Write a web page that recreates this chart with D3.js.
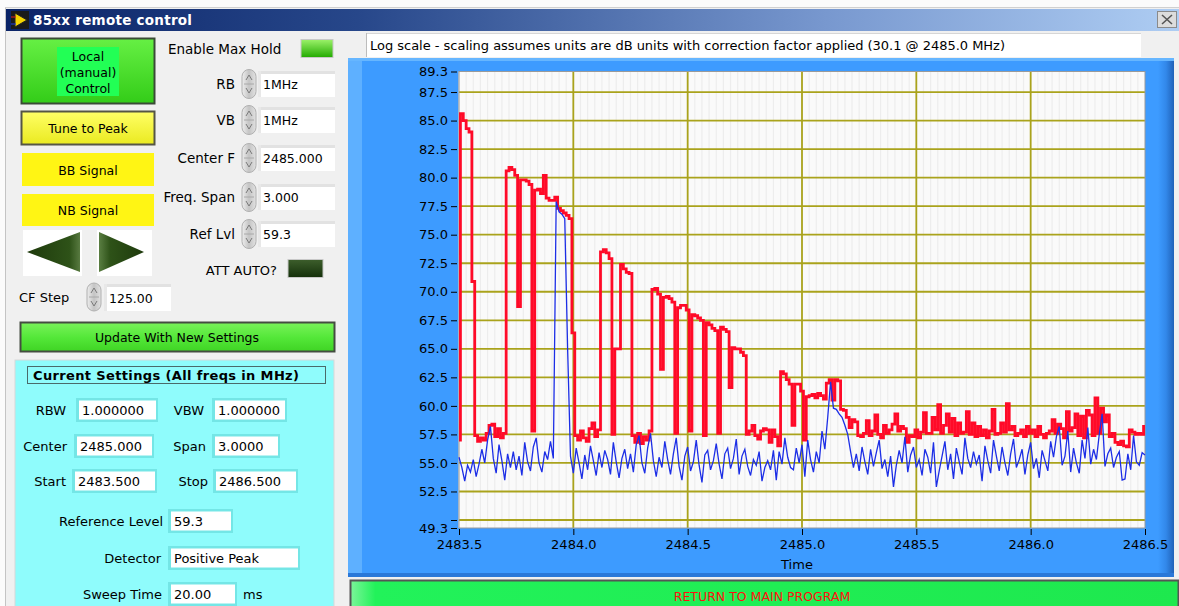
<!DOCTYPE html>
<html>
<head>
<meta charset="utf-8">
<script src="https://cdn.jsdelivr.net/npm/d3@7"></script>
<style>
  body { margin: 0; background: #f0f0f0; }
  svg { display: block; font-family: "DejaVu Sans", sans-serif; }
</style>
</head>
<body>
<div id="chart"></div>
<script>
// sweep definition (MHz)
const freqStart = 2483.5;
const freqStop = 2486.5;

const xTickValues = [2483.5, 2484.0, 2484.5, 2485.0, 2485.5, 2486.0, 2486.5];
const yTickValues = [89.3, 87.5, 85.0, 82.5, 80.0, 77.5, 75.0, 72.5, 70.0, 67.5, 65.0, 62.5, 60.0, 57.5, 55.0, 52.5, 50.0, 49.3];
const yGridValues = [87.5, 85.0, 82.5, 80.0, 77.5, 75.0, 72.5, 70.0, 67.5, 65.0, 62.5, 60.0, 57.5, 55.0, 52.5, 50.0];

// max hold trace (red), dB, one value per sweep point
const maxHold = [
  57.0, 85.6, 85.0, 84.3, 84.0, 70.9, 57.4, 56.9, 57.2, 57.0,
  57.6, 58.3, 58.4, 57.3, 58.0, 57.2, 57.6, 80.6, 80.9, 80.7,
  80.2, 68.7, 79.8, 79.8, 79.7, 79.4, 57.8, 78.9, 79.0, 78.6,
  80.2, 78.2, 78.0, 78.0, 78.3, 77.3, 77.1, 76.9, 76.7, 76.4,
  66.4, 57.4, 57.0, 57.8, 57.2, 56.9, 58.0, 58.5, 57.3, 57.9,
  73.5, 73.7, 73.4, 72.9, 57.5, 65.0, 65.0, 72.4, 72.0, 71.7,
  71.6, 57.4, 56.8, 57.6, 56.7, 57.3, 57.0, 57.8, 70.2, 70.3,
  69.8, 63.2, 69.5, 69.6, 69.4, 69.1, 57.6, 68.6, 68.8, 68.8,
  68.4, 57.8, 68.0, 67.9, 67.7, 67.5, 57.4, 67.3, 67.1, 66.8,
  66.6, 57.6, 66.9, 66.7, 66.5, 61.6, 65.1, 65.0, 65.0, 64.7,
  64.4, 57.5, 57.8, 58.3, 57.4, 57.1, 57.8, 58.0, 57.9, 56.8,
  57.9, 57.3, 56.5, 63.0, 62.8, 62.3, 61.9, 58.3, 61.9, 61.9,
  61.3, 57.0, 60.8, 60.9, 61.0, 60.7, 61.1, 60.9, 60.6, 62.0,
  62.3, 60.5, 62.3, 62.2, 59.7, 59.6, 59.0, 58.1, 58.8, 58.6,
  57.4, 57.3, 57.6, 58.7, 57.4, 57.8, 59.2, 57.5, 57.2, 58.3,
  57.6, 57.9, 58.4, 59.3, 57.8, 58.2, 58.0, 56.8, 57.4, 57.3,
  57.9, 57.2, 57.7, 59.4, 57.6, 57.6, 59.0, 57.9, 60.1, 57.6,
  58.3, 59.3, 57.7, 58.9, 57.4, 58.5, 57.6, 57.7, 59.5, 57.5,
  58.5, 57.3, 58.2, 57.4, 57.9, 57.2, 57.8, 59.7, 57.5, 57.6,
  58.5, 57.7, 60.2, 57.9, 58.2, 57.4, 57.6, 57.9, 57.3, 58.2,
  57.6, 57.9, 57.3, 58.2, 57.5, 57.2, 57.6, 57.8, 58.8, 57.6,
  58.4, 58.0, 57.2, 59.5, 57.8, 58.1, 59.3, 57.4, 59.1, 57.2,
  59.6, 59.2, 57.4, 60.7, 57.6, 59.8, 58.6, 59.2, 57.3, 57.6,
  56.8, 56.6, 56.9, 56.5, 56.4, 57.9, 57.7, 57.5, 57.6, 57.5,
  58.2
];

// current sweep (blue), dB
const current = [
  55.5, 54.6, 53.4, 54.8, 54.2, 55.3, 53.8, 54.9, 56.2, 55.0,
  57.0, 58.2, 55.4, 54.1, 56.6, 55.2, 53.5, 55.8, 54.6, 56.0,
  54.4, 55.6, 53.9, 56.8, 55.1, 54.3, 56.4, 57.2, 55.0, 54.2,
  56.0, 55.3, 56.9, 55.4, 77.9, 77.0, 76.8, 76.4, 65.0, 55.6,
  54.1, 56.3, 55.0, 53.6, 55.7, 54.4, 56.5, 55.2, 53.9, 55.9,
  54.6, 56.1, 55.3, 54.0, 56.8, 55.1, 53.7, 55.4, 56.2, 54.5,
  55.8, 54.2, 56.6, 57.4, 55.0, 54.1, 56.3, 57.6, 55.2, 53.8,
  55.5, 54.6, 56.9, 55.3, 54.0, 55.8, 57.2, 54.7, 53.5, 55.6,
  56.4, 54.3, 55.1, 57.0, 54.8, 53.3, 55.7, 56.1, 54.4, 55.2,
  56.7, 54.9, 53.6, 55.8, 56.3, 54.5, 55.4, 57.1, 54.0, 55.6,
  56.2, 54.7, 53.9, 55.3, 54.8, 56.0, 53.4, 54.6, 55.2, 54.4,
  56.1, 53.5, 56.0, 54.9, 57.2, 55.5, 54.6, 54.4, 56.3, 55.0,
  56.6, 53.8, 57.0, 55.3, 54.2, 56.0, 55.0, 57.8, 56.2, 59.0,
  62.1, 59.8, 59.7, 59.3, 59.0, 58.3, 57.5, 56.0, 54.6, 55.8,
  54.3, 56.4, 55.1, 54.0, 56.2, 54.7, 55.9, 57.0, 54.5, 55.3,
  53.8, 55.6, 52.9, 54.8, 56.1, 55.0, 57.3, 54.2, 55.7, 56.4,
  54.6, 55.3, 53.9, 56.2, 55.5, 54.1, 56.8, 52.9, 54.3, 55.6,
  56.9, 54.4, 55.8, 53.6, 56.3, 55.1, 54.0, 57.2, 55.4, 54.6,
  56.0, 54.9, 55.7, 53.4, 56.5, 55.2, 54.1, 57.0, 55.6, 54.3,
  56.4, 55.0, 53.9, 55.8, 57.1, 54.6, 55.3, 56.2, 54.0, 55.7,
  56.8, 54.5, 55.4, 53.7, 56.1, 55.2, 54.3, 56.9, 55.5, 57.3,
  58.2, 54.8, 55.6, 57.8, 54.2, 56.3, 55.0, 54.1, 57.0, 55.4,
  58.1, 54.9, 56.2, 55.3, 57.5, 59.3, 54.7, 55.8, 56.3, 54.6,
  55.5, 56.0, 53.5, 53.6, 55.8, 54.4, 57.4, 55.1, 54.8, 55.9,
  55.7
];

// sweep point frequencies (evenly spaced analyzer bins)
const nPoints = maxHold.length;
const freqs = d3.range(nPoints).map(i => freqStart + i * (freqStop - freqStart) / (nPoints - 1));

// front panel texts
const titleText = "85xx remote control";
const infoText = "Log scale - scaling assumes units are dB units with correction factor applied (30.1 @ 2485.0 MHz)";
const spinLabels = ["RB", "VB", "Center F", "Freq. Span", "Ref Lvl"];
const spinValues = ["1MHz", "1MHz", "2485.000", "3.000", "59.3"];
const settingLabels = ["RBW", "VBW", "Center", "Span", "Start", "Stop", "Reference Level", "Detector", "Sweep Time"];
const settingValues = ["1.000000", "1.000000", "2485.000", "3.0000", "2483.500", "2486.500", "59.3", "Positive Peak", "20.00"];

// layout
const W = 1179, H = 606;
const spinRowY = [84, 120, 158, 197, 234];
const settingLayout = [
  [66, 79, 77, 410], [204, 215, 70, 410],
  [67, 77, 75, 446], [206, 215, 63, 446],
  [66, 75, 80, 481], [208, 216, 80, 481],
  [163, 171, 60, 521], [161, 171, 127, 558], [162, 171, 64, 594]
];

const svg = d3.select("#chart").append("svg")
  .attr("width", W)
  .attr("height", H);
const defs = svg.append("defs");

function grad(id, stops, horizontal) {
  const g = defs.append("linearGradient").attr("id", id)
    .attr("x1", 0).attr("y1", 0)
    .attr("x2", horizontal ? 1 : 0).attr("y2", horizontal ? 0 : 1);
  stops.forEach(s => g.append("stop").attr("offset", s[0]).attr("stop-color", s[1]));
}
grad("titleG", [[0, "#0b2467"], [0.3, "#27478a"], [0.7, "#7898cf"], [1, "#aecdf3"]], true);
grad("greenG", [[0, "#66f044"], [1, "#33cc18"]]);
grad("yellowG", [[0, "#ffff66"], [1, "#eaea20"]]);
grad("updateG", [[0, "#7af25a"], [0.5, "#55e83a"], [1, "#3fd424"]]);
grad("spinG", [[0, "#eeeeee"], [0.5, "#c4c4c4"], [1, "#e2e2e2"]], true);
grad("ledOn", [[0, "#9cf26a"], [1, "#22aa00"]]);
grad("ledOff", [[0, "#3d5e2c"], [1, "#14300a"]]);
grad("arrowL", [[0, "#1e3a0c"], [0.8, "#2e5218"], [1, "#587a40"]], true);
grad("arrowR", [[0, "#5a7e42"], [0.25, "#2e5218"], [1, "#1e3a0c"]], true);
grad("frameEdge", [[0, "#3d9bff"], [0.5, "#3288ea"], [1, "#2062b8"]], true);
grad("returnG", [[0, "#7cf59a"], [0.03, "#22f25a"], [1, "#1ee84e"]], true);

function txt(g, x, y, s, size, anchor, extra) {
  const t = g.append("text").attr("x", x).attr("y", y)
    .attr("font-size", size).attr("text-anchor", anchor || "start")
    .attr("fill", "#000").text(s);
  if (extra) extra(t);
  return t;
}

// window chrome
svg.append("rect").attr("width", W).attr("height", H).attr("fill", "#f0f0f0");
svg.append("rect").attr("width", W).attr("height", 8).attr("fill", "#fbfbfb");
svg.append("rect").attr("width", 5).attr("height", H).attr("fill", "#fbfbfb");
svg.append("line").attr("x1", 5.5).attr("x2", 5.5).attr("y1", 7).attr("y2", H).attr("stroke", "#c4c4c4");
svg.append("line").attr("x1", 5).attr("x2", W).attr("y1", 7.5).attr("y2", 7.5).attr("stroke", "#d0d0d0");
svg.append("rect").attr("x", 6).attr("y", 9).attr("width", W - 6).attr("height", 22).attr("fill", "url(#titleG)");
const icon = svg.append("g");
icon.append("rect").attr("x", 11).attr("y", 11).attr("width", 18).attr("height", 18).attr("fill", "#1a1a1a");
icon.append("path").attr("d", "M15,13 L27,20 L15,27 Z").attr("fill", "#f4d400").attr("stroke", "#222");
icon.append("line").attr("x1", 11).attr("x2", 16).attr("y1", 17).attr("y2", 17).attr("stroke", "#e02020");
icon.append("line").attr("x1", 11).attr("x2", 16).attr("y1", 24).attr("y2", 24).attr("stroke", "#2040e0");
txt(svg, 33, 25, titleText, 13.5, "start", t => t.attr("fill", "#fff").attr("font-weight", "bold").attr("textLength", 159));
svg.append("rect").attr("x", 1157.5).attr("y", 11.5).attr("width", 19).attr("height", 16)
  .attr("fill", "#dcdcdc").attr("stroke", "#8a8a8a");
svg.append("path").attr("d", "M1162,15 L1172,24 M1172,15 L1162,24").attr("stroke", "#555").attr("stroke-width", 1.6);

// ---- left column ----
const left = svg.append("g");
left.append("rect").attr("x", 21.5).attr("y", 38.5).attr("width", 133).attr("height", 65)
  .attr("fill", "url(#greenG)").attr("stroke", "#3a4a36").attr("stroke-width", 2);
left.append("rect").attr("x", 57).attr("y", 47).attr("width", 62).attr("height", 49).attr("fill", "#22ff55");
["Local", "(manual)", "Control"].forEach((s, i) => txt(left, 88, 61 + i * 16, s, 12.5, "middle"));

left.append("rect").attr("x", 21.5).attr("y", 111.5).attr("width", 133).attr("height", 33)
  .attr("fill", "url(#yellowG)").attr("stroke", "#555544").attr("stroke-width", 2);
txt(left, 88, 133, "Tune to Peak", 12.5, "middle");

left.append("rect").attr("x", 22).attr("y", 153).attr("width", 132).attr("height", 33).attr("fill", "#fff514");
txt(left, 88, 175, "BB Signal", 12.5, "middle");
left.append("rect").attr("x", 22).attr("y", 194).attr("width", 132).attr("height", 32).attr("fill", "#fff514");
txt(left, 88, 215, "NB Signal", 12.5, "middle");

left.append("rect").attr("x", 23).attr("y", 230).attr("width", 59).attr("height", 46).attr("fill", "#fff");
left.append("rect").attr("x", 97).attr("y", 230).attr("width", 55).attr("height", 46).attr("fill", "#fff");
left.append("path").attr("d", "M27,252 L80,232 L80,272 Z").attr("fill", "url(#arrowL)");
left.append("path").attr("d", "M99,232 L144,252 L99,272 Z").attr("fill", "url(#arrowR)");

function spinner(g, cx, cy, h) {
  g.append("rect").attr("x", cx - 7).attr("y", cy - h / 2).attr("width", 14).attr("height", h)
    .attr("rx", 7).attr("fill", "url(#spinG)").attr("stroke", "#b0b0b0");
  g.append("line").attr("x1", cx - 5).attr("x2", cx + 5).attr("y1", cy).attr("y2", cy).attr("stroke", "#a8a8a8");
  g.append("path").attr("d", `M${cx - 3},${cy - 4} L${cx},${cy - 9} L${cx + 3},${cy - 4}`)
    .attr("fill", "none").attr("stroke", "#7a7a7a");
  g.append("path").attr("d", `M${cx - 3},${cy + 4} L${cx},${cy + 9} L${cx + 3},${cy + 4}`)
    .attr("fill", "none").attr("stroke", "#7a7a7a");
}
function grayBox(g, x, y, w, h, s) {
  g.append("rect").attr("x", x).attr("y", y).attr("width", w).attr("height", h).attr("fill", "#fff");
  g.append("rect").attr("x", x).attr("y", y).attr("width", w).attr("height", 3).attr("fill", "#e2e2e2");
  g.append("rect").attr("x", x).attr("y", y).attr("width", 3).attr("height", h).attr("fill", "#e8e8e8");
  txt(g, x + 5, y + h / 2 + 5, s, 12.5);
}

txt(left, 19, 302, "CF Step", 13);
spinner(left, 94, 297, 28);
grayBox(left, 104, 284, 67, 27, "125.00");

left.append("rect").attr("x", 20.5).attr("y", 322.5).attr("width", 314).attr("height", 29)
  .attr("fill", "url(#updateG)").attr("stroke", "#444c40").attr("stroke-width", 2);
txt(left, 177, 342, "Update With New Settings", 12.5, "middle");

// current settings panel
left.append("rect").attr("x", 15).attr("y", 360).attr("width", 319).attr("height", 250)
  .attr("fill", "#8ffcfc").attr("stroke", "#d8d8d8");
left.append("rect").attr("x", 27.5).attr("y", 366.5).attr("width", 298).attr("height", 17)
  .attr("fill", "#8ffcfc").attr("stroke", "#4a6a6a");
txt(left, 33, 380, "Current Settings  (All freqs in MHz)", 13, "start",
  t => t.attr("font-weight", "bold").attr("textLength", 266));
settingLabels.forEach((lab, i) => {
  const [le, bx, bw, yc] = settingLayout[i];
  txt(left, le, yc + 5, lab, 13, "end");
  left.append("rect").attr("x", bx - 3).attr("y", yc - 12).attr("width", bw + 5).attr("height", 24).attr("fill", "#74e6e6");
  left.append("rect").attr("x", bx).attr("y", yc - 9.5).attr("width", bw).attr("height", 19).attr("fill", "#fff");
  txt(left, bx + 3, yc + 5, settingValues[i], 13);
});
txt(left, 243, 599, "ms", 13);

// ---- middle column ----
const mid = svg.append("g");
txt(mid, 168, 54, "Enable Max Hold", 13.5);
mid.append("rect").attr("x", 301).attr("y", 39.5).attr("width", 32).attr("height", 18)
  .attr("fill", "url(#ledOn)").attr("stroke", "#c8c8c8");
spinLabels.forEach((lab, i) => {
  const yc = spinRowY[i];
  txt(mid, 235, yc + 5, lab, 13.5, "end");
  spinner(mid, 249, yc, 29);
  grayBox(mid, 258, yc - 13, 77, 26, spinValues[i]);
});
txt(mid, 277, 275, "ATT AUTO?", 13, "end");
mid.append("rect").attr("x", 288).attr("y", 259.5).attr("width", 35).attr("height", 18)
  .attr("fill", "url(#ledOff)").attr("stroke", "#c8c8c8");

// ---- graph ----
svg.append("rect").attr("x", 366).attr("y", 33).attr("width", 775).attr("height", 24).attr("fill", "#fff");
svg.append("line").attr("x1", 366).attr("x2", 1141).attr("y1", 33.5).attr("y2", 33.5).attr("stroke", "#d6d6d6");
svg.append("line").attr("x1", 366.5).attr("x2", 366.5).attr("y1", 33).attr("y2", 57).attr("stroke", "#bcbcbc");
txt(svg, 370, 50, infoText, 13, "start", t => t.attr("textLength", 635));

svg.append("rect").attr("x", 348).attr("y", 58).attr("width", 826).attr("height", 519).attr("fill", "#3d9bff");
svg.append("rect").attr("x", 1158).attr("y", 58).attr("width", 16).attr("height", 519).attr("fill", "url(#frameEdge)");
svg.append("rect").attr("x", 348).attr("y", 58).attr("width", 14).attr("height", 519).attr("fill", "#5eb0ff");
svg.append("rect").attr("x", 348).attr("y", 58).attr("width", 826).attr("height", 3).attr("fill", "#66b6ff");
svg.append("rect").attr("x", 348).attr("y", 573).attr("width", 826).attr("height", 4).attr("fill", "#2a78d8");

const x = d3.scaleLinear().domain([freqStart, freqStop]).range([459, 1145]);
const y = d3.scaleLinear().domain([49.3, 89.3]).range([528, 71.5]);

const plot = svg.append("g");
plot.append("rect").attr("x", x(freqStart)).attr("y", y(89.3))
  .attr("width", x(freqStop) - x(freqStart)).attr("height", y(49.3) - y(89.3)).attr("fill", "#fafafa");
plot.selectAll(".minor").data(d3.range(freqStart, freqStop, 0.03125)).join("line")
  .attr("x1", d => x(d)).attr("x2", d => x(d)).attr("y1", y(89.3)).attr("y2", y(49.3))
  .attr("stroke", "#ededed").attr("stroke-width", 1.2);
plot.selectAll(".gy").data(yGridValues).join("line")
  .attr("x1", x(freqStart)).attr("x2", x(freqStop)).attr("y1", d => y(d)).attr("y2", d => y(d))
  .attr("stroke", "#aaa31c").attr("stroke-width", 1.8);
plot.selectAll(".gx").data(xTickValues.slice(1, -1)).join("line")
  .attr("x1", d => x(d)).attr("x2", d => x(d)).attr("y1", y(89.3)).attr("y2", y(49.3))
  .attr("stroke", "#aaa31c").attr("stroke-width", 1.8);
plot.append("rect").attr("x", x(freqStart)).attr("y", y(89.3))
  .attr("width", x(freqStop) - x(freqStart)).attr("height", y(49.3) - y(89.3))
  .attr("fill", "none").attr("stroke", "#9a9a9a");

defs.append("clipPath").attr("id", "plotClip").append("rect")
  .attr("x", x(freqStart) - 1).attr("y", y(89.3))
  .attr("width", x(freqStop) - x(freqStart) + 2).attr("height", y(49.3) - y(89.3));

const redLine = d3.line().x((d, i) => x(freqs[i])).y(d => y(d)).curve(d3.curveStep);
const blueLine = d3.line().x((d, i) => x(freqs[i])).y(d => y(d));
const traces = svg.append("g").attr("clip-path", "url(#plotClip)");
traces.append("path").datum(maxHold).attr("d", redLine)
  .attr("fill", "none").attr("stroke", "#ff0a28").attr("stroke-width", 2.8).attr("stroke-linejoin", "miter");
traces.append("path").datum(current).attr("d", blueLine)
  .attr("fill", "none").attr("stroke", "#1c2ee6").attr("stroke-width", 1.3);

const yAxis = d3.axisLeft(y).tickValues(yTickValues).tickSize(6).tickPadding(3)
  .tickFormat(d => d === 50 ? "" : d3.format(".1f")(d));
svg.append("g").attr("transform", "translate(457,0)").call(yAxis)
  .call(g => g.select(".domain").remove())
  .call(g => g.selectAll("text").attr("font-size", 13).attr("font-family", "DejaVu Sans").attr("fill", "#000"))
  .call(g => g.selectAll("line").attr("stroke", "#000"));

const xAxis = d3.axisBottom(x).tickValues(xTickValues).tickSize(6).tickPadding(5).tickFormat(d3.format(".1f"));
svg.append("g").attr("transform", "translate(0,529)").call(xAxis)
  .call(g => g.select(".domain").remove())
  .call(g => g.selectAll("text").attr("font-size", 13).attr("font-family", "DejaVu Sans").attr("fill", "#000"))
  .call(g => g.selectAll("line").attr("stroke", "#000"));
txt(svg, 797, 569, "Time", 13, "middle");

// return button
svg.append("rect").attr("x", 350.5).attr("y", 580.5).attr("width", 828).attr("height", 30)
  .attr("fill", "url(#returnG)").attr("stroke", "#555").attr("stroke-width", 2);
txt(svg, 762, 601, "RETURN TO MAIN PROGRAM", 12.5, "middle", t => t.attr("fill", "#ff1010"));
</script>
</body>
</html>
